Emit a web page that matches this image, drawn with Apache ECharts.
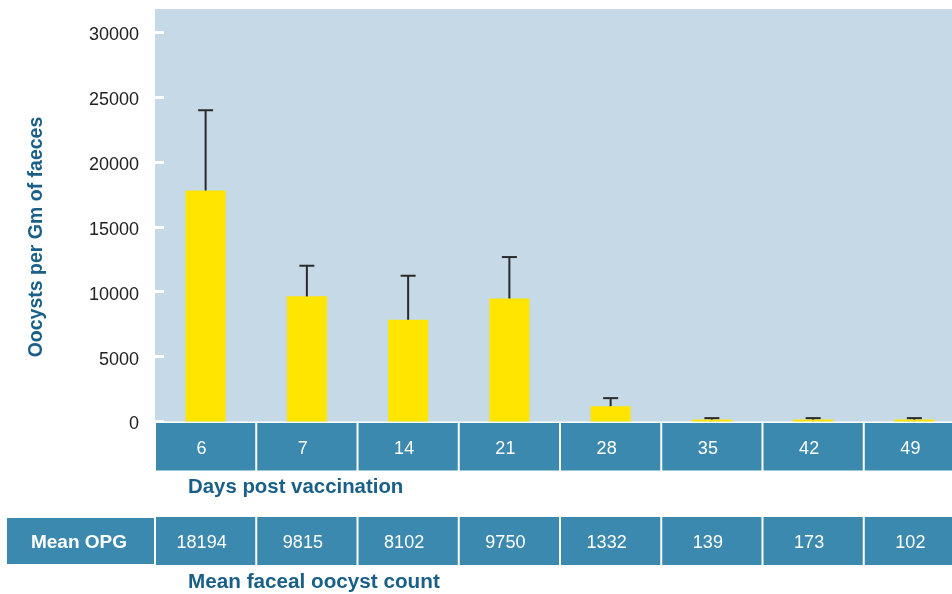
<!DOCTYPE html>
<html>
<head>
<meta charset="utf-8">
<script src="https://cdn.jsdelivr.net/npm/echarts@6/dist/echarts.min.js"></script>
<style>
  html, body { margin: 0; padding: 0; background: #ffffff; overflow: hidden; }
  #chart { width: 952px; height: 594px; }
</style>
</head>
<body>
<div id="chart"></div>
<script>
// days post vaccination
const days = ['6', '7', '14', '21', '28', '35', '42', '49'];
// bar heights (oocysts per gram)
const barValues = [17800, 9640, 7840, 9480, 1180, 150, 150, 150];
// top of the error whiskers
const errorTops = [23980, 12000, 11230, 12670, 1800, 260, 260, 260];
// mean OPG row of the table
const meanOPG = ['18194', '9815', '8102', '9750', '1332', '139', '173', '102'];
const yTicks = [0, 5000, 10000, 15000, 20000, 25000, 30000];

const cellBlue = '#3c89af';
const titleBlue = '#195f88';
const font = '"Liberation Sans", Arial, Helvetica, sans-serif';

var myChart = echarts.init(document.getElementById('chart'));

// one row of blue cells, one per category
function cellRow(labels) {
  return function (params, api) {
    var idx = api.value(0);
    var cs = params.coordSys;
    var w = api.size([1, 0])[0];
    var cx = api.coord([idx, 0.5])[0];
    return {
      type: 'group',
      children: [
        {
          type: 'rect',
          shape: { x: cx - w / 2 + 1, y: cs.y, width: w - 2, height: cs.height },
          style: { fill: cellBlue }
        },
        {
          type: 'text',
          x: cx - 4,
          y: cs.y + cs.height / 2 + 2,
          style: {
            text: labels[idx],
            fill: '#ffffff',
            font: '18px ' + font,
            align: 'center',
            verticalAlign: 'middle'
          }
        }
      ]
    };
  };
}

// the plot runs past the right edge of the page
var gridW = 810;

var option = {
  animation: false,
  grid: [
    { left: 155, width: gridW, top: 9, height: 412.5, outerBoundsMode: 'none', show: true, backgroundColor: '#c5d9e6', borderWidth: 0 },
    { left: 155, width: gridW, top: 423, height: 47.5, outerBoundsMode: 'none' },
    { left: 155, width: gridW, top: 517, height: 48, outerBoundsMode: 'none' }
  ],
  xAxis: [
    { type: 'category', data: days, gridIndex: 0, show: false },
    { type: 'category', data: days, gridIndex: 1, show: false },
    { type: 'category', data: days, gridIndex: 2, show: false }
  ],
  yAxis: [
    {
      type: 'value',
      gridIndex: 0,
      min: 0,
      max: 31780,
      interval: 5000,
      axisLine: { show: false },
      splitLine: { show: false },
      axisTick: {
        show: true,
        inside: true,
        length: 9,
        customValues: yTicks,
        lineStyle: { color: '#ffffff', width: 3 }
      },
      axisLabel: {
        customValues: yTicks,
        formatter: function (v) { return String(v); },
        margin: 16,
        color: '#222222',
        fontSize: 18,
        fontFamily: font,
        verticalAlign: 'top',
        lineHeight: 6
      }
    },
    { type: 'value', gridIndex: 1, min: 0, max: 1, show: false },
    { type: 'value', gridIndex: 2, min: 0, max: 1, show: false }
  ],
  graphic: [
    {
      type: 'text',
      x: 37,
      y: 237,
      rotation: Math.PI / 2,
      style: {
        text: 'Oocysts per Gm of faeces',
        fill: titleBlue,
        font: 'bold 19.5px ' + font,
        align: 'center',
        verticalAlign: 'middle'
      }
    },
    {
      type: 'text',
      x: 188,
      y: 487,
      style: {
        text: 'Days post vaccination',
        fill: titleBlue,
        font: 'bold 20.4px ' + font,
        align: 'left',
        verticalAlign: 'middle'
      }
    },
    {
      type: 'text',
      x: 188,
      y: 582,
      style: {
        text: 'Mean faceal oocyst count',
        fill: titleBlue,
        font: 'bold 20.7px ' + font,
        align: 'left',
        verticalAlign: 'middle'
      }
    },
    {
      type: 'rect',
      shape: { x: 7, y: 518, width: 147, height: 46 },
      style: { fill: cellBlue }
    },
    {
      type: 'text',
      x: 79,
      y: 543,
      style: {
        text: 'Mean OPG',
        fill: '#ffffff',
        font: 'bold 19px ' + font,
        align: 'center',
        verticalAlign: 'middle'
      }
    }
  ],
  series: [
    {
      type: 'bar',
      xAxisIndex: 0,
      yAxisIndex: 0,
      data: barValues,
      barWidth: 40,
      itemStyle: { color: '#ffe500' }
    },
    {
      type: 'custom',
      xAxisIndex: 0,
      yAxisIndex: 0,
      data: barValues.map((v, i) => [i, v, errorTops[i]]),
      encode: { x: 0, y: [1, 2] },
      z: 3,
      renderItem: function (params, api) {
        var lo = api.coord([api.value(0), api.value(1)]);
        var hi = api.coord([api.value(0), api.value(2)]);
        var half = 7.5;
        var st = { stroke: '#2a2a2a', lineWidth: 2 };
        return {
          type: 'group',
          children: [
            { type: 'line', shape: { x1: hi[0], y1: lo[1], x2: hi[0], y2: hi[1] }, style: st },
            { type: 'line', shape: { x1: hi[0] - half, y1: hi[1], x2: hi[0] + half, y2: hi[1] }, style: st }
          ]
        };
      }
    },
    {
      type: 'custom',
      xAxisIndex: 1,
      yAxisIndex: 1,
      data: days.map((d, i) => [i]),
      renderItem: cellRow(days)
    },
    {
      type: 'custom',
      xAxisIndex: 2,
      yAxisIndex: 2,
      data: meanOPG.map((d, i) => [i]),
      renderItem: cellRow(meanOPG)
    }
  ]
};

myChart.setOption(option);
</script>
</body>
</html>
